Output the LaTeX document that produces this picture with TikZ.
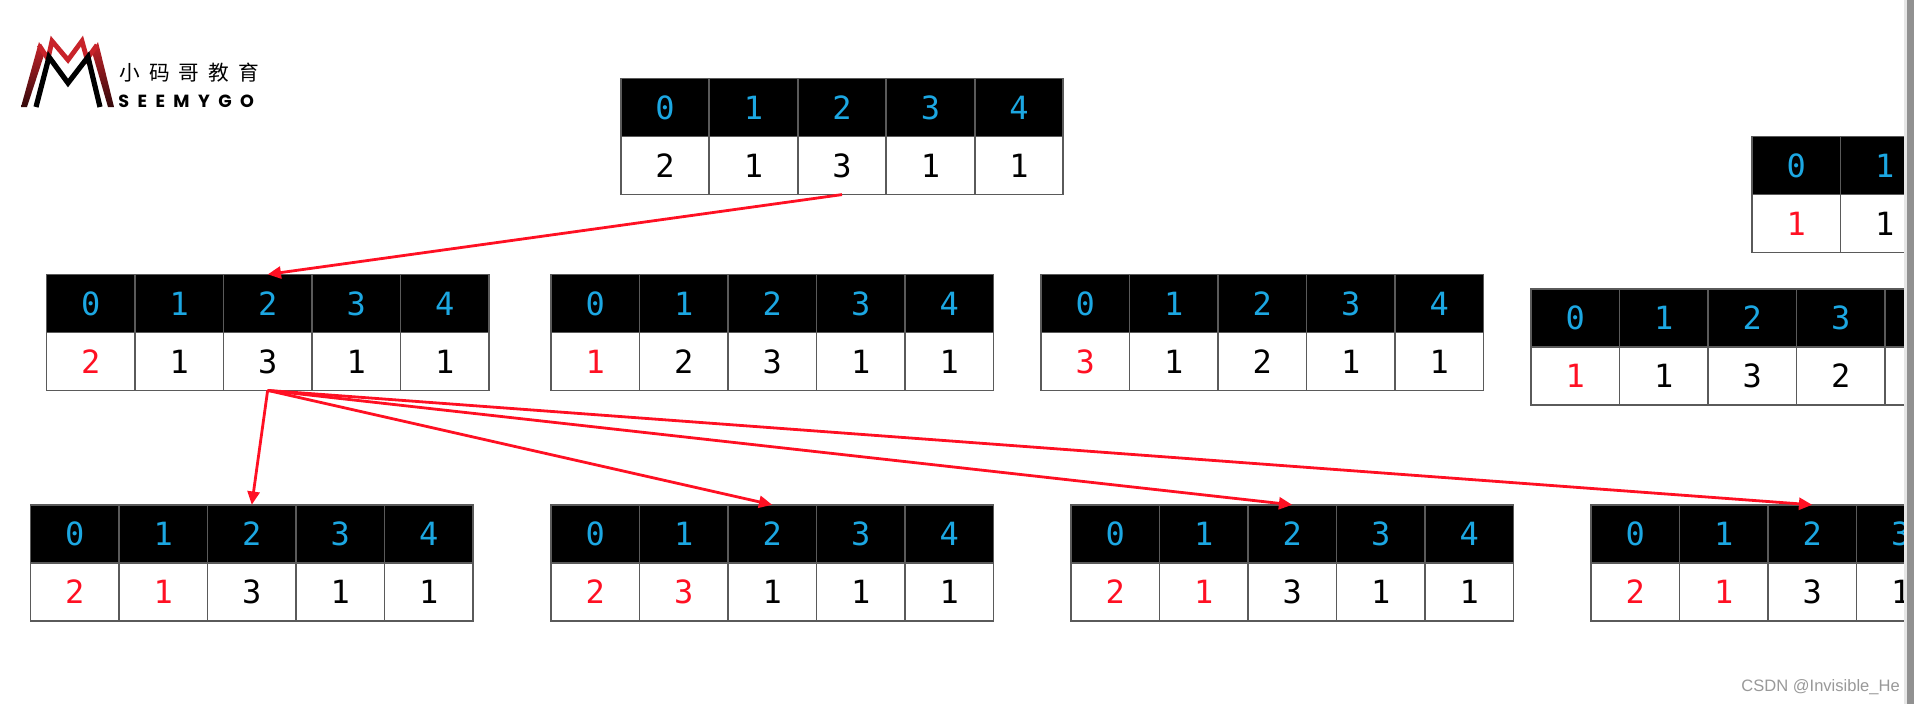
\documentclass[tikz,border=0pt]{standalone}
\usepackage{fontspec}
\setmainfont{Liberation Sans}
\newfontfamily\cellfont{DejaVu Sans Mono}
\newfontfamily\cjkfont[LetterSpace=44]{Noto Sans CJK SC}
\newfontfamily\logofont[LetterSpace=48]{Poppins}
\definecolor{gridgray}{HTML}{5A5A5A}
\definecolor{idxblue}{HTML}{1CA7E2}
\definecolor{hotred}{HTML}{FF1023}
\definecolor{logored}{HTML}{C8232A}
\definecolor{barband}{HTML}{E6E6E6}
\definecolor{barfill}{HTML}{919191}
\newcommand{\tbl}[4]{% name, left, top, list of value/colour
  \foreach \i/\v/\c [count=\k from 0] in {#4} {
    \node[hcell] (#1h\k) at ({#2+88.5*\k+44.25},{#3+29}) {\raisebox{-1pt}{\textcolor{idxblue}{\k}}};
    \node[vcell] (#1v\k) at ({#2+88.5*\k+44.25},{#3+87}) {\raisebox{-1pt}{\textcolor{\c}{\v}}};
  }
}
\tikzset{
  x=0.75pt,y=-0.75pt,
  hcell/.style={draw=gridgray,line width=1.2pt,fill=black,minimum width=66.375pt,minimum height=43.5pt,inner sep=0pt,outer sep=0pt,font=\cellfont\fontsize{24}{24}\selectfont},
  vcell/.style={hcell,fill=white},
  link/.style={draw=hotred,line width=2.1pt,-{Triangle[length=10pt,width=9pt]}},
  logoleg/.style={top color=logored,bottom color=black!75!logored,draw=none},
}
\usetikzlibrary{arrows.meta}
\begin{document}
\begin{tikzpicture}
\useasboundingbox (0,0) rectangle (1914,704);
\fill[white] (0,0) rectangle (1914,704);
\begin{scope}
\clip (0,0) rectangle (1906,704);
\tbl{t}{620.7}{78.6}{0/2/black,1/1/black,2/3/black,3/1/black,4/1/black}
\tbl{a}{46.4}{274.4}{0/2/hotred,1/1/black,2/3/black,3/1/black,4/1/black}
\tbl{b}{551}{274.4}{0/1/hotred,1/2/black,2/3/black,3/1/black,4/1/black}
\tbl{c}{1041}{274.4}{0/3/hotred,1/1/black,2/2/black,3/1/black,4/1/black}
\tbl{p}{1752}{136.6}{0/1/hotred,1/1/black}
\tbl{q}{1531}{288.8}{0/1/hotred,1/1/black,2/3/black,3/2/black}
\node[hcell] (qh4) at ({1531+88.5*4+44.25},{288.8+29}) {};
\node[vcell] (qv4) at ({1531+88.5*4+44.25},{288.8+87}) {};
\tbl{d}{30.5}{504.8}{0/2/hotred,1/1/hotred,2/3/black,3/1/black,4/1/black}
\tbl{e}{551}{504.8}{0/2/hotred,1/3/hotred,2/1/black,3/1/black,4/1/black}
\tbl{f}{1071}{504.8}{0/2/hotred,1/1/hotred,2/3/black,3/1/black,4/1/black}
\tbl{g}{1591}{504.8}{0/2/hotred,1/1/hotred,2/3/black,3/1/black}
\draw[link] (tv2.south) -- (ah2.north);
\draw[link] (av2.south) -- (dh2.north);
\draw[link] (av2.south) -- (eh2.north);
\draw[link] (av2.south) -- (fh2.north);
\draw[link] (av2.south) -- (gh2.north);
\end{scope}
% logo
\shade[logoleg] (21,107) -- (27,107) -- (45,52) -- (39,42) -- cycle;
\shade[logoleg] (108,107) -- (114,107) -- (98,42) -- (92,52) -- cycle;
\draw[logored,line width=3.6pt,line join=miter] (39,45) -- (48,59) -- (52,41) -- (68,60) -- (82,41) -- (87,59) -- (97,45);
\draw[black,line width=3.9pt,line join=miter] (36,107) -- (49,57) -- (68,83) -- (88,57) -- (100,107);
\node[anchor=west,inner sep=0pt,font=\cjkfont\fontsize{15.5}{15.5}\selectfont] (logocn) at (119,73) {小码哥教育};
\node[anchor=west,inner sep=0pt,font=\logofont\bfseries\fontsize{13.2}{13.2}\selectfont] (logoen) at (118,101) {SEEMYGO};
% watermark
\node[anchor=east,inner sep=0pt,text=black!40,font=\fontsize{12.4}{12.4}\selectfont] (mark) at (1900,687) {CSDN @Invisible\_He};
% scrollbar
\fill[barband] (1904,0) rectangle (1906.7,704);
\fill[barfill] (1906.7,0) rectangle (1914,704);
\end{tikzpicture}
\end{document}
